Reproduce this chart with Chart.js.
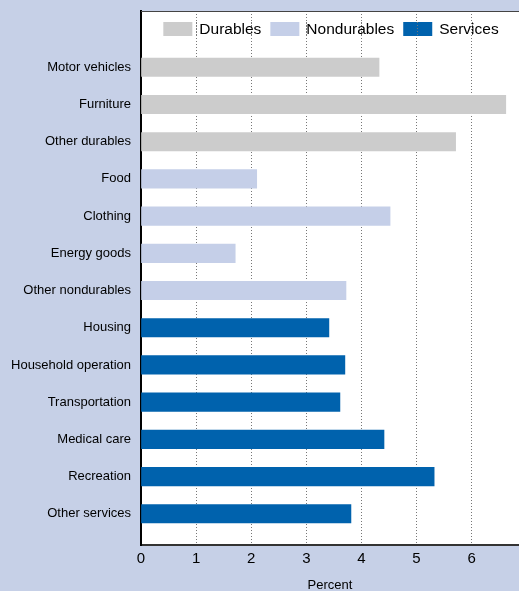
<!DOCTYPE html>
<html>
<head>
<meta charset="utf-8">
<script src="https://cdn.jsdelivr.net/npm/chart.js@4/dist/chart.umd.min.js"></script>
<style>
  body { margin: 0; background: #c6d0e7; }
  canvas { display: block; }
</style>
</head>
<body>
<canvas id="spending" width="519" height="591"></canvas>
<script>
// categories top to bottom
const categories = ['Motor vehicles', 'Furniture', 'Other durables', 'Food', 'Clothing',
  'Energy goods', 'Other nondurables', 'Housing', 'Household operation',
  'Transportation', 'Medical care', 'Recreation', 'Other services'];

const durables = [4.32, 6.62, 5.71];          // Motor vehicles .. Other durables
const nondurables = [2.10, 4.52, 1.71, 3.72]; // Food .. Other nondurables
const services = [3.41, 3.70, 3.61, 4.41, 5.32, 3.81]; // Housing .. Other services

const xTicks = [0, 1, 2, 3, 4, 5, 6];

const fontFamily = "'Liberation Sans', Arial, Helvetica, sans-serif";

// turn each group into {x, y} points, y = row index of the category
function rows(values, first) {
    return values.map((v, i) => ({ x: v, y: first + i }));
}

const bgPlugin = {
    id: 'bgPlugin',
    beforeDraw(chart) {
        const ctx = chart.ctx, a = chart.chartArea;
        ctx.save();
        ctx.fillStyle = '#c6d0e7';
        ctx.fillRect(0, 0, chart.width, chart.height);
        ctx.fillStyle = '#ffffff';
        ctx.fillRect(a.left, a.top, a.right - a.left, a.bottom - a.top);
        ctx.restore();
    },
    afterDraw(chart) {
        const ctx = chart.ctx, a = chart.chartArea;
        ctx.save();
        // thin top frame line
        ctx.strokeStyle = '#444';
        ctx.lineWidth = 1;
        ctx.beginPath();
        ctx.moveTo(a.left, a.top + 0.5);
        ctx.lineTo(a.right, a.top + 0.5);
        ctx.stroke();

        // legend inside the plot, centred
        ctx.font = '15.5px ' + fontFamily;
        ctx.textBaseline = 'middle';
        const boxW = 29, boxH = 14, gap = 7, itemGap = 9;
        const items = chart.data.datasets.map(d => ({ label: d.label, color: d.backgroundColor, w: boxW + gap + ctx.measureText(d.label).width }));
        const total = items.reduce((s, it) => s + it.w, 0) + itemGap * (items.length - 1);
        let x = (a.left + a.right) / 2 - total / 2 + 1;
        const y = a.top + 18;
        items.forEach(it => {
            ctx.fillStyle = it.color;
            ctx.fillRect(x, y - boxH / 2, boxW, boxH);
            ctx.fillStyle = '#000';
            ctx.fillText(it.label, x + boxW + gap, y + 1);
            x += it.w + itemGap;
        });
        // dotted grid lines run over the legend too
        const xs = chart.scales.x;
        ctx.strokeStyle = '#777';
        ctx.setLineDash([1, 2]);
        xTicks.slice(1).forEach(t => {
            const px = Math.round(xs.getPixelForValue(t)) + 0.5;
            ctx.beginPath();
            ctx.moveTo(px, y - boxH / 2);
            ctx.lineTo(px, y + boxH / 2);
            ctx.stroke();
        });
        ctx.restore();
    }
};

new Chart(document.getElementById('spending'), {
    type: 'bar',
    data: {
        datasets: [{
            label: 'Durables',
            data: rows(durables, 0),
            backgroundColor: '#cccccc'
        }, {
            label: 'Nondurables',
            data: rows(nondurables, 3),
            backgroundColor: '#c5cfe8'
        }, {
            label: 'Services',
            data: rows(services, 7),
            backgroundColor: '#0062ad'
        }]
    },
    options: {
        indexAxis: 'y',
        responsive: false,
        animation: false,
        devicePixelRatio: 1,
        layout: { padding: { top: 11, right: 0, left: 0, bottom: 0 } },
        datasets: {
            bar: { barThickness: 18.5, grouped: false }
        },
        scales: {
            x: {
                type: 'linear',
                min: 0,
                max: 6.86,
                z: 1,
                afterBuildTicks: axis => { axis.ticks = xTicks.map(v => ({ value: v })); },
                afterFit: axis => { axis.height = 46; axis.paddingRight = 0; },
                grid: { color: '#777', lineWidth: 1, drawTicks: false },
                border: { display: true, color: '#333', width: 2, dash: [1, 2] },
                ticks: {
                    padding: 5,
                    color: '#000',
                    font: { family: fontFamily, size: 15 }
                },
                title: {
                    display: true,
                    text: 'Percent',
                    color: '#000',
                    padding: { top: 0, bottom: 0 },
                    font: { family: fontFamily, size: 13, lineHeight: 0.9 }
                }
            },
            y: {
                type: 'linear',
                reverse: true,
                offset: false,
                min: -1.513,
                max: 12.839,
                z: 2,
                afterBuildTicks: axis => { axis.ticks = categories.map((c, i) => ({ value: i })); },
                afterFit: axis => { axis.width = 141; axis.paddingTop = 0; axis.paddingBottom = 0; },
                grid: { display: false, drawTicks: false },
                border: { display: true, color: '#000', width: 2 },
                ticks: {
                    padding: 10,
                    color: '#000',
                    font: { family: fontFamily, size: 13 },
                    callback: v => categories[v]
                }
            }
        },
        plugins: {
            legend: { display: false },
            tooltip: { enabled: false }
        }
    },
    plugins: [bgPlugin]
});
</script>
</body>
</html>
